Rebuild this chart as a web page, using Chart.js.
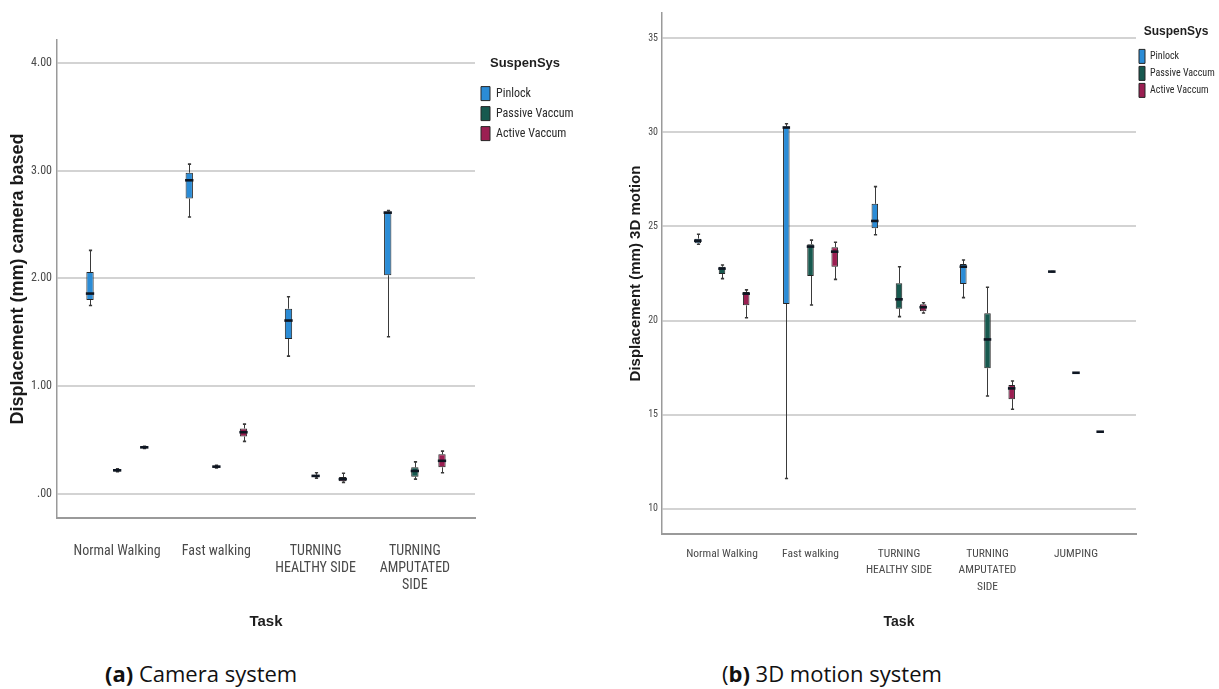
<!DOCTYPE html>
<html>
<head>
<meta charset="utf-8">
<script src="https://cdn.jsdelivr.net/npm/chart.js@4.4.1/dist/chart.umd.min.js"></script>
<style>
  html, body { margin: 0; padding: 0; background: #fff; }
  body { width: 1219px; height: 689px; position: relative; overflow: hidden; }
  #ca { position: absolute; left: 0; top: 0; }
  #cb { position: absolute; left: 605px; top: 0; }
  .cap { position: absolute; top: 661px; font-family: 'Open Sans', sans-serif; font-size: 22px; line-height: 24px; color: #111; white-space: nowrap; }
</style>
</head>
<body>
<canvas id="ca" width="595" height="650"></canvas>
<canvas id="cb" width="614" height="650"></canvas>
<div class="cap" style="left:105px"><b>(a)</b> Camera system</div>
<div class="cap" style="left:722px">(<b>b)</b> 3D motion system</div>
<script>
// ---------- DATA ----------
const systems = ['Pinlock', 'Passive Vaccum', 'Active Vaccum'];
const systemColors = ['#2b8cd6', '#17594f', '#9b1f52'];

// (a) camera based — tasks and tick labels
const tasksA = ['Normal Walking', 'Fast walking', 'TURNING HEALTHY SIDE', 'TURNING AMPUTATED SIDE'];
const tickLabelsA = [['Normal Walking'], ['Fast walking'], ['TURNING', 'HEALTHY SIDE'], ['TURNING', 'AMPUTATED', 'SIDE']];
// five-number summaries [min, q1, median, q3, max] per task
const camPinlock = [[1.75, 1.80, 1.86, 2.06, 2.26], [2.57, 2.74, 2.91, 2.98, 3.06], [1.28, 1.44, 1.61, 1.72, 1.83], [1.46, 2.03, 2.61, 2.62, 2.63]];
const camPassive = [[0.21, 0.212, 0.222, 0.232, 0.235], [0.245, 0.248, 0.256, 0.264, 0.268], [0.15, 0.16, 0.17, 0.18, 0.20], [0.14, 0.163, 0.216, 0.25, 0.30]];
const camActive  = [[0.425, 0.428, 0.435, 0.442, 0.445], [0.49, 0.535, 0.575, 0.61, 0.65], [0.11, 0.12, 0.14, 0.16, 0.195], [0.20, 0.25, 0.31, 0.37, 0.40]];

// (b) 3D motion — tasks and tick labels
const tasksB = ['Normal Walking', 'Fast walking', 'TURNING HEALTHY SIDE', 'TURNING AMPUTATED SIDE', 'JUMPING'];
const tickLabelsB = [['Normal Walking'], ['Fast walking'], ['TURNING', 'HEALTHY SIDE'], ['TURNING', 'AMPUTATED', 'SIDE'], ['JUMPING']];
const motPinlock = [[24.05, 24.10, 24.24, 24.35, 24.58], [11.62, 20.88, 30.25, 30.30, 30.45], [24.56, 24.90, 25.29, 26.20, 27.11], [21.22, 21.94, 22.86, 23.00, 23.22], [22.60, 22.60, 22.60, 22.60, 22.60]];
const motPassive = [[22.23, 22.48, 22.76, 22.86, 22.95], [20.83, 22.37, 23.93, 24.05, 24.27], [20.21, 20.63, 21.13, 21.98, 22.86], [16.00, 17.47, 19.00, 20.39, 21.77], [17.23, 17.23, 17.23, 17.23, 17.23]];
const motActive  = [[20.15, 20.81, 21.43, 21.52, 21.63], [22.19, 22.86, 23.66, 23.90, 24.16], [20.40, 20.49, 20.71, 20.87, 20.95], [15.29, 15.83, 16.40, 16.58, 16.79], [14.10, 14.10, 14.10, 14.10, 14.10]];

const yTicksA = [0, 1, 2, 3, 4];
const yTicksB = [10, 15, 20, 25, 30, 35];

// ---------- STYLE ----------
const NARROW = "'Liberation Sans Narrow', 'Arial Narrow', 'Roboto Condensed', 'DejaVu Sans Condensed', sans-serif";
const ARIAL = "'Liberation Sans', Arial, sans-serif";

// Box-and-whisker extras drawn through the chart's own scales and bar elements
const boxPlugin = {
  id: 'boxWhisker',
  beforeDatasetsDraw(chart) {
    eachBox(chart, (ctx, x, w, p) => {
      const xs = Math.round(x) + 0.5;
      ctx.strokeStyle = '#3a3a3a';
      ctx.lineWidth = 1;
      ctx.beginPath();
      ctx.moveTo(xs, p[0]); ctx.lineTo(xs, p[1]);
      ctx.moveTo(xs, p[3]); ctx.lineTo(xs, p[4]);
      ctx.stroke();
      ctx.lineWidth = 1.6;
      ctx.beginPath();
      ctx.moveTo(xs - 1.6, p[0]); ctx.lineTo(xs + 1.6, p[0]);
      ctx.moveTo(xs - 1.6, p[4]); ctx.lineTo(xs + 1.6, p[4]);
      ctx.stroke();
    });
  },
  afterDatasetsDraw(chart) {
    eachBox(chart, (ctx, x, w, p) => {
      ctx.strokeStyle = '#0e1622';
      ctx.lineWidth = 2.6;
      ctx.beginPath();
      ctx.moveTo(x - w / 2 - 0.5, p[2]); ctx.lineTo(x + w / 2 + 0.5, p[2]);
      ctx.stroke();
    });
  }
};
function eachBox(chart, fn) {
  const ys = chart.scales.y;
  const ctx = chart.ctx;
  chart.data.datasets.forEach((ds, di) => {
    const meta = chart.getDatasetMeta(di);
    if (!chart.isDatasetVisible(di)) return;
    meta.data.forEach((bar, i) => {
      const s = ds.stats[i];
      if (!s) return;
      const {x, width} = bar.getProps(['x', 'width'], true);
      ctx.save();
      fn(ctx, x, width, s.map(v => ys.getPixelForValue(v)));
      ctx.restore();
    });
  });
}

function makeDatasets(seriesList) {
  return seriesList.map((stats, k) => ({
    label: systems[k],
    data: stats.map((s, i) => ({x: i + 1, y: [s[1], s[3]]})),
    stats: stats,
    backgroundColor: systemColors[k],
    borderColor: '#262626',
    borderWidth: 1,
    borderSkipped: false,
    categoryPercentage: 0.82,
    barPercentage: 0.27
  }));
}

function makeChart(el, cfg) {
  return new Chart(el, {
    type: 'bar',
    data: { datasets: makeDatasets(cfg.series) },
    plugins: [boxPlugin],
    options: {
      responsive: false,
      animation: false,
      events: [],
      layout: { padding: cfg.padding },
      plugins: {
        tooltip: { enabled: false },
        legend: {
          position: 'right',
          align: 'start',
          maxWidth: cfg.legendWidth,
          title: {
            display: true, text: 'SuspenSys', color: '#1e1e1e',
            font: { family: ARIAL, size: cfg.legTitleSize, weight: 'bold' },
            padding: cfg.legTitlePad
          },
          labels: {
            boxWidth: cfg.legBoxW, boxHeight: cfg.legBoxH, padding: cfg.legPad,
            color: '#2a2a2a', font: { family: NARROW, size: cfg.legFont }
          }
        }
      },
      scales: {
        x: {
          type: 'linear', offset: false,
          min: cfg.xMin, max: cfg.xMax,
          afterFit: s => { s.height = cfg.xAxisH; },
          grid: { display: false, offset: false, drawTicks: false },
          border: { display: true, color: '#9a9a9a', width: 2 },
          afterBuildTicks: s => { s.ticks = cfg.labels.map((l, i) => ({value: i + 1})); },
          ticks: {
            autoSkip: false, maxRotation: 0, padding: cfg.xTickPad, color: '#4a4a4a',
            font: { family: NARROW, size: cfg.xTickFont, lineHeight: cfg.xTickLH },
            callback: v => cfg.labels[v - 1]
          },
          title: {
            display: true, text: 'Task', color: '#1e1e1e',
            font: { family: ARIAL, size: cfg.xTitleSize, weight: 'bold', lineHeight: 1.2 },
            padding: { top: 0, bottom: cfg.xTitlePadB }
          }
        },
        y: {
          type: 'linear',
          min: cfg.yMin, max: cfg.yMax,
          afterFit: s => { s.width = cfg.yAxisW; },
          afterBuildTicks: s => { s.ticks = cfg.yTicks.map(v => ({value: v})); },
          grid: { color: '#d3d3d3', lineWidth: 2, drawTicks: false },
          border: { display: true, color: '#9a9a9a', width: 1.5 },
          ticks: {
            padding: cfg.yTickPad, color: '#4a4a4a',
            font: { family: NARROW, size: cfg.yTickFont },
            callback: cfg.yFormat
          },
          title: {
            display: true, text: cfg.yTitle, color: '#1a1a1a',
            font: { family: ARIAL, size: cfg.yTitleSize, weight: 'bold', lineHeight: 1.2 },
            padding: { top: cfg.yTitlePadT, bottom: 0 }
          }
        }
      }
    }
  });
}

makeChart(document.getElementById('ca'), {
  series: [camPinlock, camPassive, camActive],
  labels: tickLabelsA,
  padding: { left: 0, top: 40, right: 20, bottom: 0 },
  legendWidth: 100, legTitleSize: 13, legTitlePad: { top: 17, bottom: 8 },
  legBoxW: 9, legBoxH: 14, legPad: 6, legFont: 12,
  xMin: 0.394, xMax: 4.606, xAxisH: 132, xTickPad: 25.5, xTickFont: 14, xTickLH: 1.21,
  xTitleSize: 15, xTitlePadB: 19,
  yMin: -0.22, yMax: 4.21, yAxisW: 57, yTicks: yTicksA, yTickPad: 5, yTickFont: 12,
  yFormat: v => (v === 0 ? '.00' : v.toFixed(2)),
  yTitle: 'Displacement (mm) camera based', yTitleSize: 18, yTitlePadT: 7.2
});

makeChart(document.getElementById('cb'), {
  series: [motPinlock, motPassive, motActive],
  labels: tickLabelsB,
  padding: { left: 0, top: 13, right: 3, bottom: 0 },
  legendWidth: 80, legTitleSize: 12, legTitlePad: { top: 13, bottom: 6 },
  legBoxW: 6, legBoxH: 14, legPad: 3, legFont: 10,
  xMin: 0.322, xMax: 5.678, xAxisH: 116, xTickPad: 11.75, xTickFont: 11.5, xTickLH: 1.43,
  xTitleSize: 14, xTitlePadB: 19.6,
  yMin: 8.67, yMax: 36.33, yAxisW: 57, yTicks: yTicksB, yTickPad: 4, yTickFont: 10,
  yFormat: v => String(v),
  yTitle: 'Displacement (mm) 3D motion', yTitleSize: 15, yTitlePadT: 22
});
</script>
</body>
</html>
